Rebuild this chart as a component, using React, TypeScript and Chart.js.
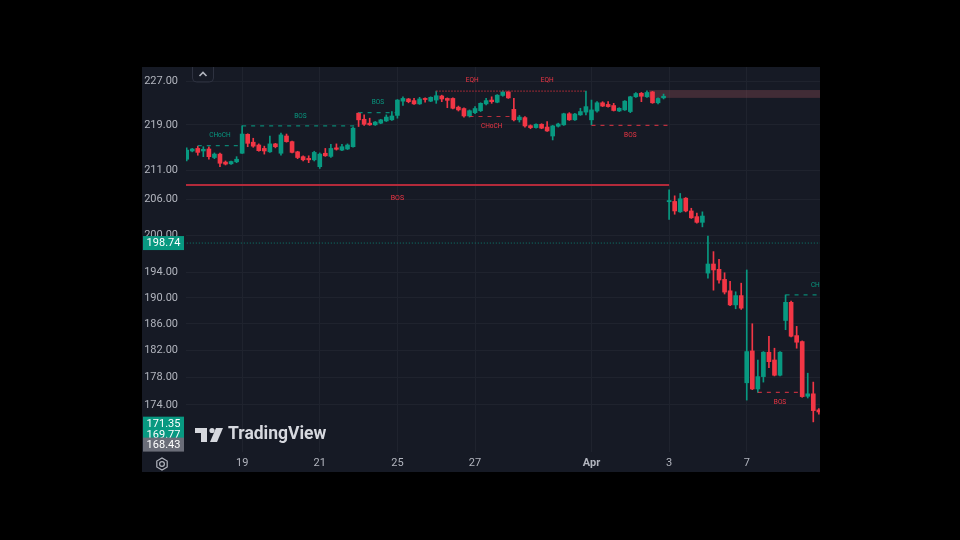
import React, { useEffect, useRef } from 'react';
import { Chart, registerables } from 'chart.js';
Chart.register(...registerables);

// ---- OHLC (hourly candles, 17 Mar -> 8 Apr) ----
const opens = [212.9,214.35,214.8,214.35,214.7,213.2,213.8,212.4,212.1,212.45,213.95,217.3,215.9,215.4,214.8,214.2,215.6,213.95,217.0,216.0,214.2,213.35,213.05,212.8,211.6,213.95,213.4,214.9,214.5,214.7,215.1,221.1,220.0,219.3,219.0,219.3,219.7,219.9,220.7,223.3,223.7,223.4,222.8,223.8,223.3,223.5,224.25,223.8,223.8,222.2,221.95,220.6,221.2,221.55,222.8,223.5,223.1,224.35,225.0,221.8,219.9,220.3,218.85,218.5,219.1,218.6,217.0,218.75,219.0,221.0,219.9,220.8,221.3,219.9,221.5,223.0,222.7,222.5,221.5,221.7,221.4,224.1,224.75,224.1,225.0,223.0,223.9,205.6,205.65,203.9,206.2,204.05,203.1,202.15,193.9,195.35,194.5,192.9,191.1,188.9,190.35,177.2,181.9,176.3,178.1,181.7,180.55,178.3,186.5,189.3,184.2,183.3,175.25,175.6,173.3];
const highs = [214.9,214.8,215.2,215.1,215.1,214.0,214.0,212.6,212.6,213.35,218.8,217.4,216.6,215.6,215.2,217.0,215.7,217.5,217.35,216.1,214.3,213.5,213.5,214.3,214.0,214.8,215.5,215.6,215.5,215.6,218.6,221.2,220.8,220.2,219.6,220.0,220.8,221.4,223.6,224.1,223.8,223.8,224.0,223.9,224.1,225.15,224.4,223.9,223.9,222.4,222.1,221.7,222.3,223.0,223.8,224.1,224.5,225.2,225.15,223.8,220.7,220.5,219.0,219.2,219.2,219.6,218.9,219.3,221.1,221.2,221.1,222.0,225.15,223.5,223.2,223.2,223.2,222.9,222.1,223.4,224.2,224.9,224.9,225.2,225.1,223.9,224.6,207.6,206.6,207.0,206.3,204.5,203.7,203.9,199.9,197.35,196.1,193.95,192.6,190.95,192.3,194.4,186.0,180.55,181.8,184.1,182.3,181.8,190.45,189.5,185.6,183.4,178.6,177.3,173.5];
const lows = [212.6,214.2,213.6,213.35,212.9,213.0,211.6,211.9,212.0,212.3,213.9,215.1,215.0,214.3,213.8,214.1,214.9,213.6,215.9,214.0,213.0,212.6,212.3,212.6,211.3,213.4,213.2,214.5,214.4,214.6,215.0,218.7,218.9,218.9,218.9,219.2,219.6,219.8,220.2,222.5,223.0,222.7,222.7,223.1,223.2,222.9,223.2,222.1,221.9,221.5,220.4,220.4,221.0,221.4,222.6,222.9,223.0,224.2,223.8,219.7,219.5,218.6,218.3,218.4,218.3,217.8,216.3,218.6,218.9,219.8,219.8,220.7,220.8,219.0,221.3,222.3,222.2,221.5,221.4,221.6,221.2,224.0,223.2,224.0,222.9,222.8,223.7,202.65,203.5,203.8,203.9,202.8,202.0,201.4,193.1,191.2,192.3,190.6,188.8,188.3,188.2,174.7,176.2,175.8,177.3,179.4,178.2,178.2,185.1,184.0,182.3,175.1,175.0,171.6,172.7];
const closes = [214.5,214.7,214.1,214.65,213.35,213.8,212.2,212.05,212.5,212.9,217.35,215.7,215.2,214.4,214.35,215.6,215.1,217.2,216.0,214.1,213.2,212.8,212.8,214.1,213.8,213.5,214.8,214.65,215.1,215.4,218.4,219.9,219.1,219.0,219.5,219.9,220.4,220.6,223.5,223.8,223.2,222.8,223.7,223.6,224.0,224.3,223.7,223.45,222.0,221.7,220.6,221.55,221.95,222.9,223.4,223.2,224.4,225.0,223.9,219.9,220.4,218.8,218.5,219.1,218.4,217.9,218.8,219.15,221.0,219.9,220.95,221.4,222.3,221.7,223.0,222.4,222.3,221.6,222.0,223.3,224.1,224.7,224.2,224.9,223.0,223.8,224.2,205.8,204.05,206.1,204.05,202.9,202.15,203.2,195.35,194.4,192.8,190.9,188.9,190.35,188.4,181.8,176.3,178.1,181.7,180.3,178.3,181.7,189.3,184.1,183.2,175.2,175.6,173.2,173.0];

// ---- axes ----
const xTickIndex = [10, 24, 38, 52, 73, 87, 101];
const xTickLabels = ['19', '21', '25', '27', 'Apr', '3', '7'];
const yTicks = [174, 178, 182, 186, 190, 194, 200, 206, 211, 219, 227];

// ---- market-structure annotations ----
const smcText = ['CHoCH', 'BOS', 'BOS', 'EQH', 'EQH', 'CHoCH', 'BOS', 'BOS', 'CHoCH', 'BOS'];
const smcStart = [2, 10, 31, 45, 58, 51, 73, -11, 108, 103];
const smcEnd = [10, 31, 38, 58, 72, 59, 87, 87, 121, 111];
const smcLevel = [215.3, 218.8, 221.2, 225.15, 225.15, 220.5, 218.9, 208.45, 190.45, 175.8];
const smcBias = ['bull', 'bull', 'bull', 'bear', 'bear', 'bear', 'bear', 'bear', 'bull', 'bear'];
const smcScope = ['internal', 'internal', 'internal', 'equal', 'equal', 'internal', 'internal', 'swing', 'internal', 'internal'];

const zoneStart = 83.4;
const zoneTop = 225.35;
const zoneBottom = 223.9;

const markLine = 198.74;
const priceTags = [198.74, 171.35, 169.77, 168.43];
const priceTagKind = ['up', 'up', 'up', 'neutral'];

// ---- view ----
const XMIN = -0.126, XMAX = 114.21;
const YMIN = 167.41, YMAX = 229.65;
const UP = '#089981', DOWN = '#f23645';
const BG = '#161a25';
const GRID = '#1f232e';
const TXT = '#b2b5be';
const FONT = 'Roboto, "Noto Sans", sans-serif';

export default function App() {
  const ref = useRef<HTMLCanvasElement>(null);
  useEffect(() => {
    const idx = opens.map((_, i) => i);
    const col = idx.map((i) => (closes[i] >= opens[i] ? UP : DOWN));

    const lineSets: any[] = smcText.map((t, k) => {
      const bull = smcBias[k] === 'bull';
      const scope = smcScope[k];
      return {
        type: 'line',
        data: [{ x: smcStart[k], y: smcLevel[k] }, { x: smcEnd[k], y: smcLevel[k] }],
        borderColor: scope === 'swing' ? '#b22a3a' : scope === 'equal' ? '#a02a36' : bull ? 'rgba(8,153,129,0.85)' : 'rgba(242,54,69,0.75)',
        borderWidth: scope === 'swing' ? 2 : 1.2,
        borderDash: scope === 'swing' ? [] : scope === 'equal' ? [1.5, 1.5] : [4, 5],
        pointRadius: 0,
        order: 1,
      };
    });
    lineSets.push({
      type: 'line',
      data: [{ x: -20, y: markLine }, { x: 130, y: markLine }],
      borderColor: 'rgba(8,153,129,0.8)',
      borderWidth: 1,
      borderDash: [1, 2],
      pointRadius: 0,
      order: 1,
    });

    const bgPlugin = {
      id: 'bg',
      beforeDraw(c: any) {
        const ctx = c.ctx;
        ctx.save();
        ctx.fillStyle = BG;
        ctx.fillRect(0, 0, c.width, c.height);
        ctx.restore();
      },
    };

    const zonePlugin = {
      id: 'zone',
      beforeDatasetsDraw(c: any) {
        const { ctx, chartArea: a, scales } = c;
        const x0 = scales.x.getPixelForValue(zoneStart);
        const y0 = scales.y.getPixelForValue(zoneTop);
        const y1 = scales.y.getPixelForValue(zoneBottom);
        ctx.save();
        ctx.beginPath();
        ctx.rect(a.left, a.top, a.right - a.left, a.bottom - a.top);
        ctx.clip();
        ctx.fillStyle = 'rgba(150,78,88,0.34)';
        ctx.fillRect(x0, y0, a.right - x0, y1 - y0);
        ctx.restore();
      },
    };

    const labelPlugin = {
      id: 'smcLabels',
      afterDatasetsDraw(c: any) {
        const { ctx, chartArea: a, scales } = c;
        ctx.save();
        ctx.beginPath();
        ctx.rect(a.left, a.top, a.right - a.left, a.bottom - a.top);
        ctx.clip();
        ctx.textAlign = 'center';
        ctx.textBaseline = 'middle';
        smcText.forEach((t, k) => {
          const bull = smcBias[k] === 'bull';
          const scope = smcScope[k];
          const x = scales.x.getPixelForValue((smcStart[k] + smcEnd[k]) / 2);
          const y = scales.y.getPixelForValue(smcLevel[k]);
          let dy = bull ? -10 : 9.5;
          if (scope === 'equal') dy = -10.5;
          if (scope === 'swing') dy = 13;
          ctx.fillStyle = bull ? UP : DOWN;
          ctx.font = (scope === 'swing' ? '7px ' : '6.5px ') + FONT;
          ctx.fillText(t, x, y + dy);
        });
        ctx.restore();
      },
    };

    const decorPlugin = {
      id: 'decor',
      afterDraw(c: any) {
        const { ctx, scales } = c;
        ctx.save();
        // price tags on the scale
        ctx.font = '11px ' + FONT;
        ctx.textAlign = 'center';
        ctx.textBaseline = 'middle';
        priceTags.forEach((p, k) => {
          const y = scales.y.getPixelForValue(p);
          ctx.fillStyle = priceTagKind[k] === 'up' ? UP : '#6a6d78';
          ctx.fillRect(1, y - 7, 41, 14);
          ctx.fillStyle = '#ffffff';
          ctx.fillText(p.toFixed(2), 21.5, y + 0.5);
        });
        // page coords from here
        ctx.translate(-142, -67);
        // TradingView watermark
        ctx.fillStyle = '#d6d8de';
        ctx.fillRect(195, 428, 12, 5);
        ctx.fillRect(201, 428, 6, 14);
        ctx.beginPath();
        ctx.arc(212, 430.5, 2.6, 0, Math.PI * 2);
        ctx.fill();
        ctx.beginPath();
        ctx.moveTo(216, 428);
        ctx.lineTo(223, 428);
        ctx.lineTo(217, 442);
        ctx.lineTo(210, 442);
        ctx.closePath();
        ctx.fill();
        ctx.font = 'bold 17.5px ' + FONT;
        ctx.textAlign = 'left';
        ctx.textBaseline = 'middle';
        ctx.fillText('TradingView', 228, 435);
        // scroll-up button
        ctx.strokeStyle = '#2e3240';
        ctx.lineWidth = 1;
        ctx.beginPath();
        (ctx as any).roundRect(192.5, 60.5, 21, 21.5, 4);
        ctx.stroke();
        ctx.strokeStyle = TXT;
        ctx.lineWidth = 1.6;
        ctx.beginPath();
        ctx.moveTo(199.5, 76);
        ctx.lineTo(203, 72.5);
        ctx.lineTo(206.5, 76);
        ctx.stroke();
        // settings icon
        ctx.lineWidth = 1.2;
        ctx.beginPath();
        for (let k = 0; k < 6; k++) {
          const ang = Math.PI / 6 + (k * Math.PI) / 3;
          const px = 162 + 6 * Math.cos(ang);
          const py = 464 + 6 * Math.sin(ang);
          if (k === 0) ctx.moveTo(px, py);
          else ctx.lineTo(px, py);
        }
        ctx.closePath();
        ctx.stroke();
        ctx.beginPath();
        ctx.arc(162, 464, 2.4, 0, Math.PI * 2);
        ctx.stroke();
        ctx.restore();
      },
    };

    const chart = new Chart(ref.current as HTMLCanvasElement, {
      type: 'bar',
      data: {
        datasets: [
          {
            type: 'bar',
            data: idx.map((i) => ({ x: i, y: [lows[i], highs[i]] })) as any,
            backgroundColor: col,
            borderWidth: 0,
            barThickness: 1,
            grouped: false,
            order: 3,
          } as any,
          {
            type: 'bar',
            data: idx.map((i) => ({ x: i, y: [opens[i], closes[i]] })) as any,
            backgroundColor: col,
            borderWidth: 0,
            barThickness: 4,
            minBarLength: 1,
            grouped: false,
            order: 2,
          } as any,
          ...lineSets,
        ],
      },
      options: {
        responsive: false,
        animation: false,
        devicePixelRatio: 1,
        layout: { padding: 0, autoPadding: false },
        plugins: { legend: { display: false }, tooltip: { enabled: false } },
        scales: {
          x: {
            type: 'linear',
            min: XMIN,
            max: XMAX,
            offset: false,
            afterFit: (s: any) => { s.height = 20; s.paddingLeft = 0; s.paddingRight = 0; },
            afterBuildTicks: (s: any) => { s.ticks = xTickIndex.map((v) => ({ value: v })); },
            grid: { color: GRID, drawTicks: false, lineWidth: 1, offset: false },
            border: { display: false },
            ticks: {
              padding: 5,
              color: TXT,
              maxRotation: 0,
              autoSkip: false,
              font: (ctx: any) => ({ family: FONT, size: 11, weight: xTickLabels[ctx.index] === 'Apr' ? 'bold' : 'normal' }),
              callback: (_v: any, i: number) => xTickLabels[i],
            },
          },
          y: {
            type: 'logarithmic',
            position: 'left',
            min: YMIN,
            max: YMAX,
            afterFit: (s: any) => { s.width = 44; s.paddingTop = 0; s.paddingBottom = 0; },
            afterBuildTicks: (s: any) => { s.ticks = yTicks.map((v) => ({ value: v })); },
            grid: { color: GRID, drawTicks: false, lineWidth: 1, offset: false },
            border: { display: false },
            ticks: {
              padding: 8,
              color: TXT,
              autoSkip: false,
              font: { family: FONT, size: 11 },
              callback: (v: any) => Number(v).toFixed(2),
            },
          },
        },
      } as any,
      plugins: [bgPlugin, zonePlugin, labelPlugin, decorPlugin],
    });
    return () => chart.destroy();
  }, []);

  return (
    <div style={{ position: 'fixed', left: 0, top: 0, width: 960, height: 540, background: '#000', overflow: 'hidden' }}>
      <canvas
        ref={ref}
        width={678}
        height={405}
        style={{ position: 'absolute', left: 142, top: 67, width: 678, height: 405 }}
      />
    </div>
  );
}
